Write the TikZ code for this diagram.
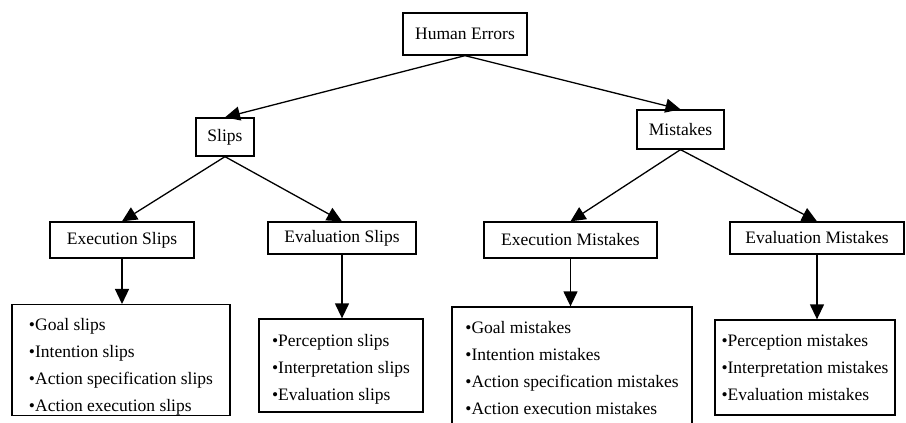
\documentclass[tikz,border=0pt]{standalone}
\usepackage{fontspec}
\setmainfont{Liberation Serif}
\usetikzlibrary{arrows.meta}
\tikzset{
	box/.style={draw, line width=1.3pt, inner sep=0pt, font=\fontsize{17.5}{21}\selectfont},
	list/.style={box, align=left, font=\fontsize{17.5}{27}\selectfont},
	link/.style={line width=1.3pt, -{Triangle[length=15pt,width=14pt]}}
}

\begin{document}
\begin{tikzpicture}[x=1pt,y=-1pt]
		\useasboundingbox (0,0) rectangle (906,423);
		% top levels
		\node[box, minimum width=124pt, minimum height=42pt] (he) at (465,34) {Human Errors};
		\node[box, minimum width=58pt, minimum height=38pt] (slips) at (225,137) {Slips};
		\node[box, minimum width=87pt, minimum height=39pt] (mist) at (680.5,129.5) {Mistakes};
		\node[box, minimum width=144pt, minimum height=36pt] (exs) at (122,240) {Execution Slips};
		\node[box, minimum width=148pt, minimum height=32pt] (evs) at (342,238) {Evaluation Slips};
		\node[box, minimum width=173pt, minimum height=36pt] (exm) at (570.5,240) {Execution Mistakes};
		\node[box, minimum width=174pt, minimum height=32pt] (evm) at (817,238) {Evaluation Mistakes};
		% lists
		\node[list, minimum width=218pt, minimum height=106pt] (exsl) at (121,360)
			{\rule{0pt}{26pt}\textbullet Goal slips\\ \textbullet Intention slips\\ \textbullet Action specification slips\\ \textbullet Action execution slips};
		\node[list, minimum width=164pt, minimum height=93pt] (evsl) at (341,365.5)
			{\rule{0pt}{20pt}\textbullet Perception slips\\ \textbullet Interpretation slips\\ \textbullet Evaluation slips};
		\node[list, minimum width=240pt, minimum height=122pt] (exml) at (572,368)
			{\textbullet Goal mistakes\\ \textbullet Intention mistakes\\ \textbullet Action specification mistakes\\ \textbullet Action execution mistakes};
		\node[list, minimum width=180pt, minimum height=95pt] (evml) at (805,367.5)
			{\textbullet Perception mistakes\\ \textbullet Interpretation mistakes\\ \textbullet Evaluation mistakes};
		% arrows
		\draw[link] (he.south) -- (slips.north);
		\draw[link] (he.south) -- (mist.north);
		\draw[link] (slips.south) -- (exs.north);
		\draw[link] (slips.south) -- (evs.north);
		\draw[link] (mist.south) -- (exm.north);
		\draw[link] (mist.south) -- (evm.north);
		\draw[link] (exs.south) -- (exs.south |- exsl.north);
		\draw[link] (evs.south) -- (evs.south |- evsl.north);
		\draw[link] (exm.south) -- (exm.south |- exml.north);
		\draw[link] (evm.south) -- (evm.south |- evml.north);
	\end{tikzpicture}
\end{document}
